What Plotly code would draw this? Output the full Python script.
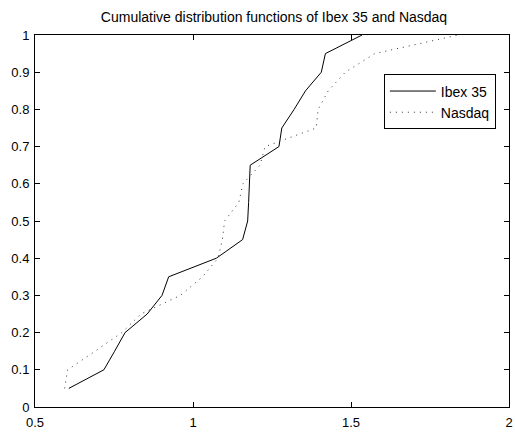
import plotly.graph_objects as go

probs = [0.05, 0.10, 0.15, 0.20, 0.25, 0.30, 0.35, 0.40, 0.45, 0.50,
         0.55, 0.60, 0.65, 0.70, 0.75, 0.80, 0.85, 0.90, 0.95, 1.00]
ibex = [0.607, 0.718, 0.752, 0.785, 0.855, 0.902, 0.923, 1.074, 1.157, 1.173,
        1.176, 1.178, 1.181, 1.272, 1.281, 1.320, 1.356, 1.406, 1.419, 1.535]
nasdaq = [0.594, 0.603, 0.690, 0.775, 0.835, 0.960, 1.030, 1.079, 1.093, 1.100,
          1.145, 1.158, 1.212, 1.228, 1.390, 1.396, 1.428, 1.482, 1.575, 1.840]

xticks = [0.5, 1, 1.5, 2]
xlabels = ["0.5", "1", "1.5", "2"]
yticks = [0, 0.1, 0.2, 0.3, 0.4, 0.5, 0.6, 0.7, 0.8, 0.9, 1]
ylabels = ["0", "0.1", "0.2", "0.3", "0.4", "0.5", "0.6", "0.7", "0.8", "0.9", "1"]

font = "Liberation Sans, Arial, Helvetica, sans-serif"

fig = go.Figure()
fig.add_trace(go.Scatter(x=ibex, y=probs, mode="lines", name="Ibex 35",
                         line=dict(color="black", width=1)))
fig.add_trace(go.Scatter(x=nasdaq, y=probs, mode="lines", name="Nasdaq",
                         line=dict(color="#333333", width=1, dash="1px,5px")))

axis_common = dict(showgrid=False, zeroline=False, showline=True, linecolor="black",
                   linewidth=1, mirror="ticks", ticks="inside", ticklen=5,
                   tickcolor="black", ticklabeloverflow="allow",
                   tickfont=dict(family=font, size=13, color="black"))

fig.update_layout(
    width=515, height=432,
    margin=dict(l=35, r=2, t=35, b=21),
    paper_bgcolor="white", plot_bgcolor="white",
    title=dict(text="Cumulative distribution functions of Ibex 35 and Nasdaq",
               x=(35 + 513) / 2 / 515, xanchor="center", y=1 - 17 / 432, yanchor="middle",
               yref="container", font=dict(family=font, size=14, color="black")),
    xaxis=dict(range=[0.5, 2], tickvals=xticks, ticktext=xlabels, ticklabelstandoff=3,
               **axis_common),
    yaxis=dict(range=[0, 1], tickvals=yticks, ticktext=ylabels, ticklabelstandoff=2,
               **axis_common),
    legend=dict(x=0.736, y=0.894, xanchor="left", yanchor="top",
                bgcolor="white", bordercolor="black", borderwidth=1,
                font=dict(family=font, size=14, color="black"),
                tracegroupgap=0, itemwidth=46),
    showlegend=True,
)

fig.write_html("out.html")
